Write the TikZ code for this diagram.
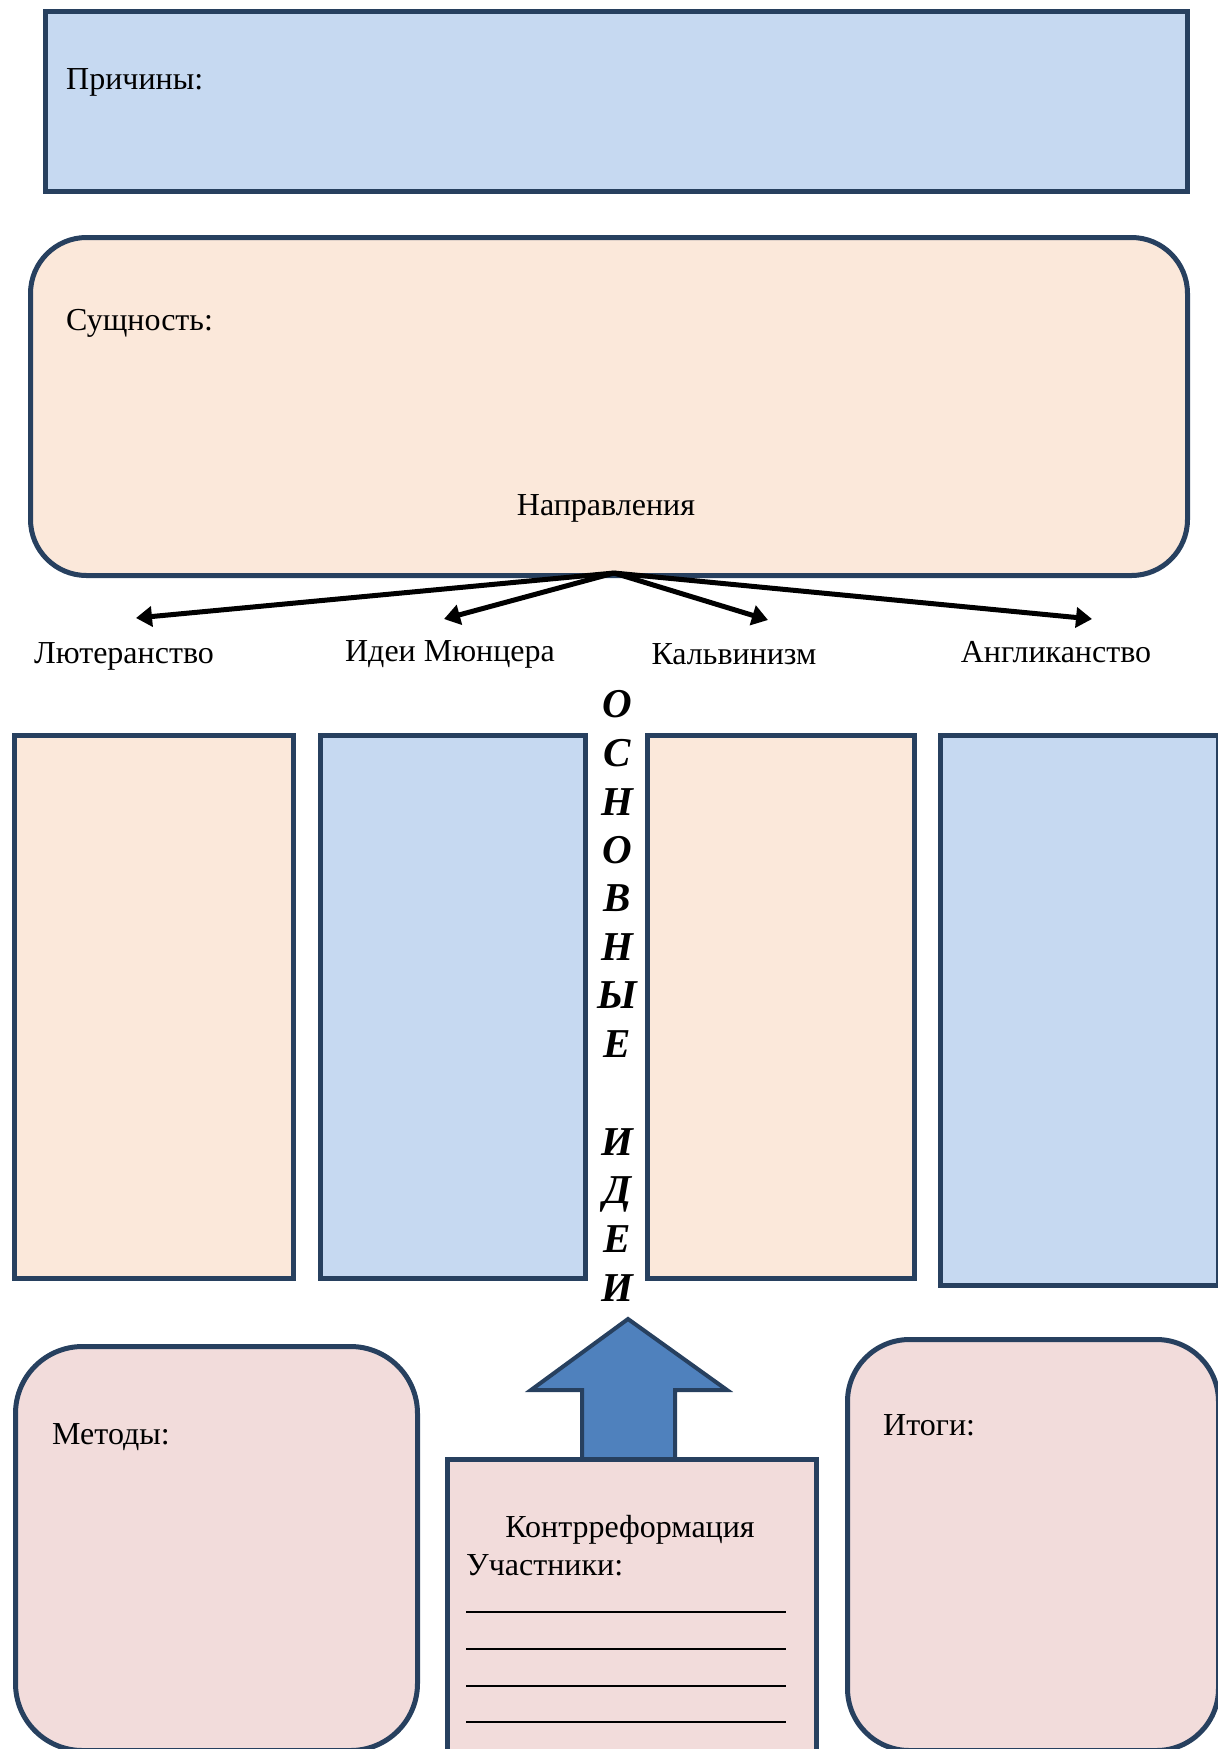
\documentclass[tikz,border=0pt]{standalone}
\usepackage{fontspec}
\setmainfont{Liberation Serif}
\usetikzlibrary{arrows.meta}
\definecolor{edge}{HTML}{27405F}
\definecolor{bluefill}{HTML}{C6D9F1}
\definecolor{peachfill}{HTML}{FBE8DA}
\definecolor{pinkfill}{HTML}{F2DCDB}
\definecolor{arrowblue}{HTML}{4F81BD}
\begin{document}
\begin{tikzpicture}[x=1pt,y=-1pt,
  panel/.style={draw=edge, line width=5pt, inner sep=0pt, anchor=north west},
  lbl/.style={font=\fontsize{32}{38}\selectfont, inner sep=0pt},
  vl/.style={font=\fontsize{41}{48}\selectfont\bfseries\itshape, inner sep=0pt, anchor=base},
  branch/.style={line width=5pt, -{Triangle[length=16pt,width=20pt]}},
  blank/.style={line width=1.6pt}
]
\useasboundingbox (0,0) rectangle (1218,1749);
\clip (0,0) rectangle (1218,1749);

% top boxes
\node[panel, fill=bluefill, minimum width=1142pt, minimum height=180pt] (prich) at (43,9) {};
\node[lbl, anchor=base west] (tprich) at (66,89) {Причины:};

\node[panel, fill=peachfill, rounded corners=56pt, minimum width=1157pt, minimum height=338pt] (sush) at (28,235) {};
\node[lbl, anchor=base west] (tsush) at (66,330) {Сущность:};
\node[lbl, anchor=base] (napr) at (606,515) {Направления};

% branches
\coordinate (src) at (614,573);
\coordinate (tipA) at (136,618);
\coordinate (tipB) at (444,619);
\coordinate (tipC) at (768,620);
\coordinate (tipD) at (1092,619);
\draw[branch] (src) -- (tipA);
\draw[branch] (src) -- (tipB);
\draw[branch] (src) -- (tipC);
\draw[branch] (src) -- (tipD);

\node[lbl, anchor=base] (lut) at (124,663) {Лютеранство};
\node[lbl, anchor=base] (myun) at (450,661) {Идеи Мюнцера};
\node[lbl, anchor=base] (kalv) at (734,664) {Кальвинизм};
\node[lbl, anchor=base] (angl) at (1056,662) {Англиканство};

% columns
\node[panel, fill=peachfill, minimum width=279pt, minimum height=543pt] (col1) at (12,733) {};
\node[panel, fill=bluefill, minimum width=265pt, minimum height=543pt] (col2) at (318,733) {};
\node[panel, fill=peachfill, minimum width=267pt, minimum height=543pt] (col3) at (645,733) {};
\node[panel, fill=bluefill, minimum width=278pt, minimum height=550pt] (col4) at (938,733) {};

% vertical title
\foreach \ch/\yy [count=\i] in {О/703, С/752, Н/801, О/849, В/897, Н/946, Ы/994, Е/1043, И/1141, Д/1189, Е/1238, И/1287}
  \node[vl] (v\i) at (617,\yy+14) {\ch};

% block arrow
\draw[draw=edge, fill=arrowblue, line width=4pt, line join=miter]
  (582,1457) -- (582,1390) -- (531,1390) -- (628,1319) -- (727,1390) -- (675,1390) -- (675,1457);

% bottom boxes
\node[panel, fill=pinkfill, rounded corners=67pt, minimum width=402pt, minimum height=404pt] (metod) at (13,1344) {};
\node[lbl, anchor=base west] (tmetod) at (52,1444) {Методы:};

\node[panel, fill=pinkfill, minimum width=369pt, minimum height=300pt] (kontr) at (445,1457) {};
\node[lbl, anchor=base] (tkontr) at (630,1537) {Контрреформация};
\node[lbl, anchor=base west] (tuch) at (466,1575) {Участники:};
\draw[blank] (466,1612) -- (786,1612);
\draw[blank] (466,1649) -- (786,1649);
\draw[blank] (466,1686) -- (786,1686);
\draw[blank] (466,1722) -- (786,1722);

\node[panel, fill=pinkfill, rounded corners=62pt, minimum width=371pt, minimum height=411pt] (itog) at (845,1337) {};
\node[lbl, anchor=base west] (titog) at (883,1435) {Итоги:};
\end{tikzpicture}
\end{document}
